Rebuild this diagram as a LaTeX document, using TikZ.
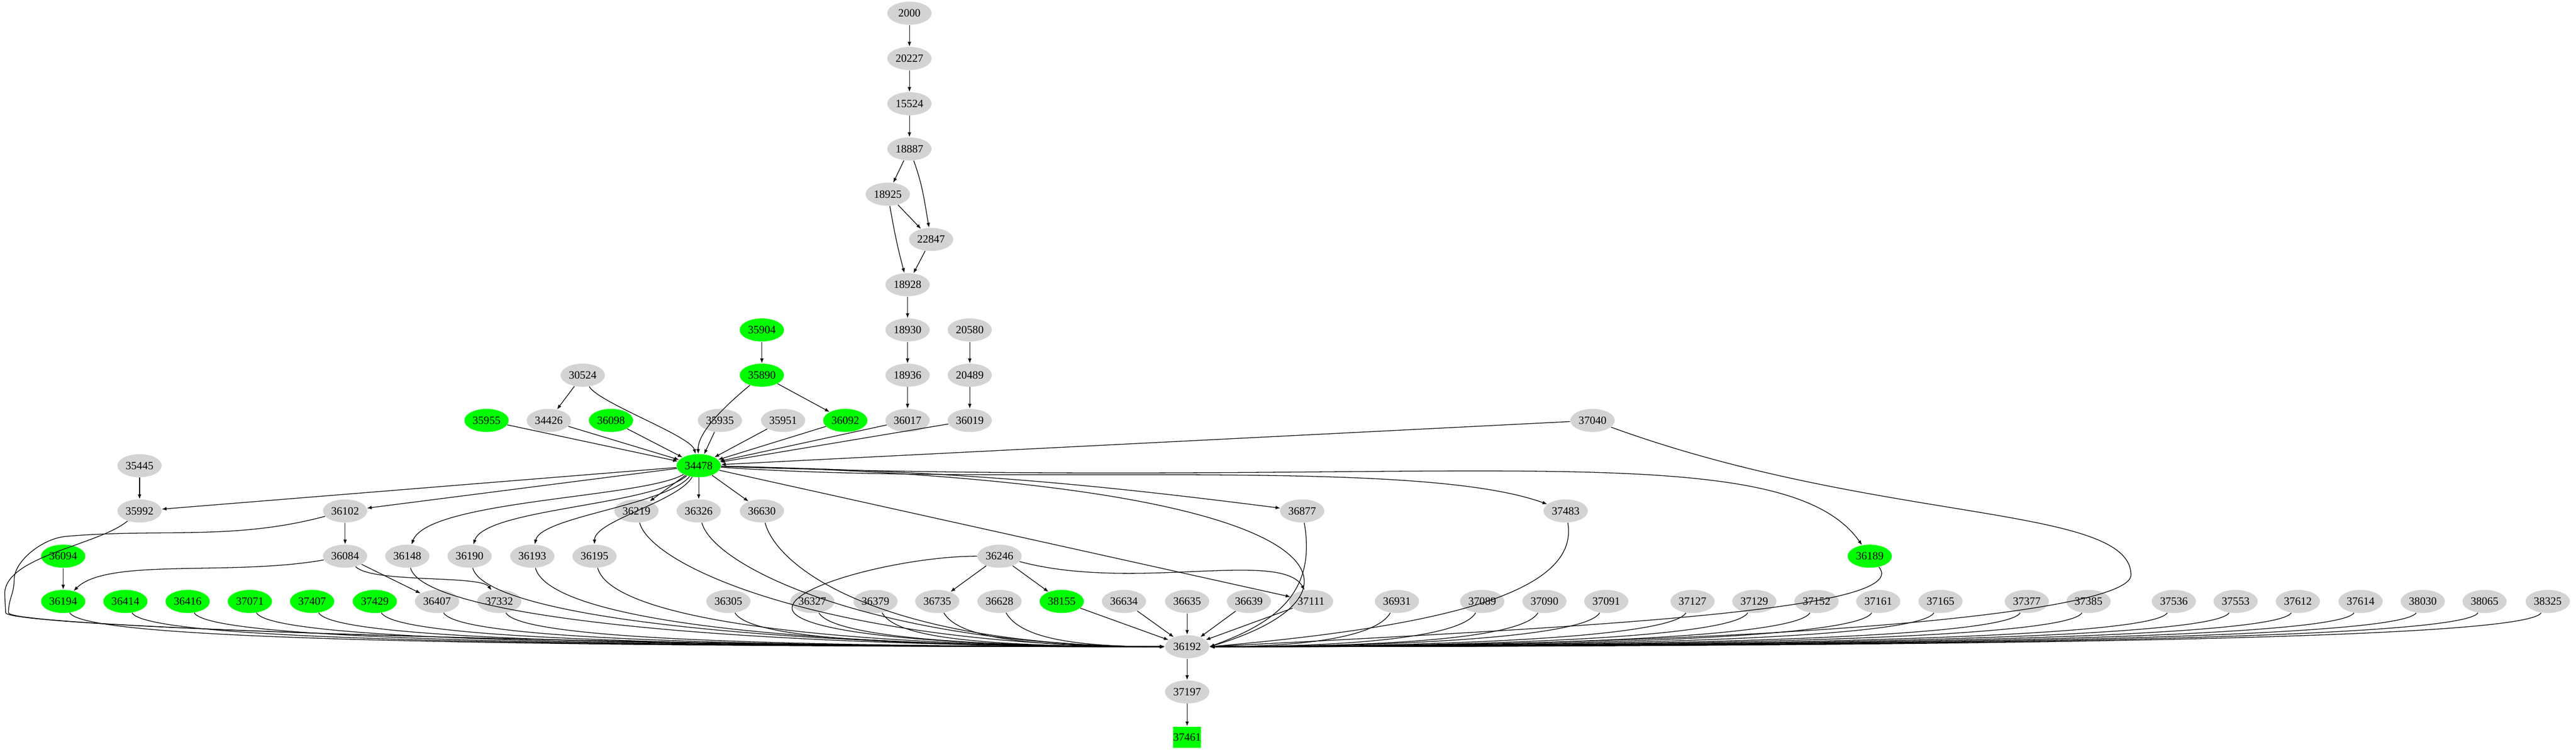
\documentclass[tikz,border=0pt]{standalone}
\usepackage{fontspec}
\setmainfont{Liberation Serif}
\usetikzlibrary{arrows.meta}
\definecolor{nodegray}{RGB}{211,211,211}
\definecolor{hitgreen}{RGB}{0,255,0}
\tikzstyle{g} = [ellipse,fill=nodegray,minimum width=0.94cm,minimum height=0.49cm,inner sep=0pt,font=\fontsize{6.7}{8}\selectfont]
\usetikzlibrary{shapes.geometric}

\begin{document}
\begin{tikzpicture}[gr/.style={g},
			gn/.style={g,fill=hitgreen},
			gbox/.style={rectangle,fill=hitgreen,minimum width=0.5cm,minimum height=0.45cm,inner sep=0pt,font=\fontsize{6.7}{8}\selectfont},
			fromleft/.style={out=-60,in=180,out distance=0.6cm,in distance=#1},
			fromright/.style={out=-120,in=0,out distance=0.6cm,in distance=#1},
			>={Latex[length=1mm,width=0.75mm]},
			every path/.style={line width=0.4pt}]
			\useasboundingbox (0,0) rectangle (54.64,-15.95);
			% top chain
			\node (n2000)[gr] at (19.29,-0.28) {2000};
			\node (n20227)[gr] at (19.29,-1.24) {20227};
			\node (n15524)[gr] at (19.29,-2.20) {15524};
			\node (n18887)[gr] at (19.29,-3.16) {18887};
			\node (n18925)[gr] at (18.83,-4.12) {18925};
			\node (n22847)[gr] at (19.75,-5.08) {22847};
			\node (n18928)[gr] at (19.25,-6.04) {18928};
			\node (n18930)[gr] at (19.25,-7.00) {18930};
			\node (n18936)[gr] at (19.25,-7.96) {18936};
			\node (n20580)[gr] at (20.57,-7.00) {20580};
			\node (n20489)[gr] at (20.57,-7.96) {20489};
			\node (n35904)[gn] at (16.16,-7.00) {35904};
			\node (n35890)[gn] at (16.16,-7.96) {35890};
			\node (n30524)[gr] at (12.36,-7.96) {30524};
			% rank above hub
			\node (n35955)[gn] at (10.32,-8.92) {35955};
			\node (n34426)[gr] at (11.64,-8.92) {34426};
			\node (n36098)[gn] at (12.96,-8.92) {36098};
			\node (n35935)[gr] at (15.27,-8.92) {35935};
			\node (n35951)[gr] at (16.61,-8.92) {35951};
			\node (n36092)[gn] at (17.93,-8.92) {36092};
			\node (n36017)[gr] at (19.25,-8.92) {36017};
			\node (n36019)[gr] at (20.57,-8.92) {36019};
			\node (n37040)[gr] at (33.78,-8.92) {37040};
			% hub
			\node (n34478)[gn] at (14.82,-9.88) {34478};
			\node (n35445)[gr] at (2.96,-9.88) {35445};
			% rank below hub
			\node (n35992)[gr] at (2.96,-10.84) {35992};
			\node (n36102)[gr] at (7.32,-10.84) {36102};
			\node (n36219)[gr] at (13.50,-10.84) {36219};
			\node (n36326)[gr] at (14.82,-10.84) {36326};
			\node (n36630)[gr] at (16.16,-10.84) {36630};
			\node (n36877)[gr] at (27.62,-10.84) {36877};
			\node (n37483)[gr] at (33.21,-10.84) {37483};
			\node (n36094)[gn] at (1.34,-11.80) {36094};
			\node (n36084)[gr] at (7.32,-11.80) {36084};
			\node (n36148)[gr] at (8.64,-11.80) {36148};
			\node (n36190)[gr] at (9.96,-11.80) {36190};
			\node (n36193)[gr] at (11.29,-11.80) {36193};
			\node (n36195)[gr] at (12.61,-11.80) {36195};
			\node (n36246)[gr] at (21.20,-11.80) {36246};
			\node (n36189)[gn] at (39.66,-11.80) {36189};
			% bottom row
			\node (n36194)[gn] at (1.34,-12.76) {36194};
			\node (n36414)[gn] at (2.66,-12.76) {36414};
			\node (n36416)[gn] at (3.98,-12.76) {36416};
			\node (n37071)[gn] at (5.30,-12.76) {37071};
			\node (n37407)[gn] at (6.62,-12.76) {37407};
			\node (n37429)[gn] at (7.95,-12.76) {37429};
			\node (n36407)[gr] at (9.27,-12.76) {36407};
			\node (n37332)[gr] at (10.59,-12.76) {37332};
			\node (n36735)[gr] at (19.88,-12.76) {36735};
			\node (n38155)[gn] at (22.52,-12.76) {38155};
			\node (n37111)[gr] at (27.81,-12.76) {37111};
			\foreach \name/\x in {36305/15.45,36327/17.23,36379/18.57,36628/21.20,36634/23.84,36635/25.18,36639/26.49,
				36931/29.63,37089/31.44,37090/32.76,37091/34.07,37127/35.90,37129/37.21,37152/38.53,37161/39.84,
				37165/41.16,37377/42.99,37385/44.30,37536/46.11,37553/47.42,37612/48.74,37614/50.07,38030/51.39,
				38065/52.70,38325/54.04}
				\node (n\name)[gr] at (\x,-12.76) {\name};
			% sink
			\node (n36192)[gr] at (25.18,-13.72) {36192};
			\node (n37197)[gr] at (25.18,-14.68) {37197};
			\node (n37461)[gbox] at (25.18,-15.64) {37461};

			\draw[->] (n2000) -- (n20227);
			\draw[->] (n20227) -- (n15524);
			\draw[->] (n15524) -- (n18887);
			\draw[->] (n18887) -- (n18925);
			\draw[->] (n18887) to[out=-70,in=100] (n22847);
			\draw[->] (n18925) -- (n22847);
			\draw[->] (n18925) to[out=-80,in=105] (n18928);
			\draw[->] (n22847) -- (n18928);
			\draw[->] (n18928) -- (n18930);
			\draw[->] (n18930) -- (n18936);
			\draw[->] (n18936) -- (n36017);
			\draw[->] (n20580) -- (n20489);
			\draw[->] (n20489) -- (n36019);
			\draw[->] (n35904) -- (n35890);
			\draw[->] (n35890) -- (n36092);
			\draw[->] (n35890) to[out=-140,in=92,out distance=0.5cm,in distance=0.5cm] (n34478);
			\draw[->] (n30524) -- (n34426);
			\draw[->] (n30524) to[out=-60,in=105,out distance=0.4cm,in distance=0.4cm] (n34478);
			\foreach \s in {35955,34426,36098,35935,35951,36092,36017,36019,37040}
				\draw[->] (n\s) -- (n34478);
			\draw[->] (n35445) -- (n35992);
			\foreach \t in {35992,36102,36219,36326,36630,37111}
				\draw[->] (n34478) -- (n\t);
			\draw[->] (n34478) to[bend left=3] (n36877);
			\draw[->] (n34478) to[out=-4,in=160,out distance=6cm,in distance=3cm] (n37483);
			\draw[->] (n34478) to[out=-2,in=125,out distance=15cm,in distance=3cm] (n36189);
			\draw[->] (n34478) to[out=-150,in=70,out distance=1cm,in distance=1cm] (n36148);
			\draw[->] (n34478) to[out=-140,in=72,out distance=1cm,in distance=0.8cm] (n36190);
			\draw[->] (n34478) to[out=-130,in=78,out distance=0.8cm,in distance=0.6cm] (n36193);
			\draw[->] (n34478) to[out=-120,in=90,out distance=0.6cm,in distance=0.5cm] (n36195);
			\draw[->] (n34478) .. controls (28.8,-10.2) and (29.4,-12.6) .. (n36192.east);
			\draw[->] (n36102) -- (n36084);
			\draw[->] (n36094) -- (n36194);
			\draw[->] (n36084) to[out=190,in=45,out distance=2cm,in distance=1cm] (n36194);
			\draw[->] (n36084) -- (n36407);
			\draw[->] (n36084) to[out=-45,in=125,out distance=0.5cm,in distance=0.4cm] (n37332);
			\draw[->] (n36246) -- (n36735);
			\draw[->] (n36246) -- (n38155);
			\draw[->] (n36246) to[out=-15,in=120,out distance=2.5cm,in distance=1cm] (n37111);
			% into the sink
			\draw[->] (n35992) to[out=-140,in=90,out distance=0.8cm,in distance=0.8cm] (0.1,-12.6) to[out=-90,in=90,out distance=0.2cm,in distance=0.2cm] (0.12,-13.0) to[out=-90,in=180,out distance=0.3cm,in distance=12cm] (n36192.west);
			\draw[->] (n36102) to[out=-165,in=5,out distance=2cm,in distance=2cm] (1.4,-11.38) to[out=-175,in=90,out distance=0.5cm,in distance=0.4cm] (0.3,-12.3) to[out=-90,in=90,out distance=0.3cm,in distance=0.3cm] (0.18,-13.0) to[out=-90,in=180,out distance=0.3cm,in distance=12cm] (n36192.west);
			\foreach \s/\d in {36194/16,36414/15,36416/14,37071/13,37407/12,37429/11,36407/10,37332/9,36305/6,36327/4,36379/4,36735/3,36628/2}
				\draw[->] (n\s) to[fromleft=\d cm] (n36192.west);
			\foreach \s/\d in {36148/10,36190/9,36193/9,36195/8,36219/7,36326/6,36630/6}
				\draw[->] (n\s) to[out=-75,in=180,out distance=1cm,in distance=\d cm] (n36192.west);
			\draw[->] (n36246) to[out=180,in=90,out distance=1.5cm,in distance=0.5cm] (16.8,-12.9) to[out=-90,in=180,out distance=0.5cm,in distance=5cm] (n36192.west);
			\foreach \s in {38155,36634,36635,36639,37111}
				\draw[->] (n\s) -- (n36192);
			\draw[->] (n36877) to[out=-80,in=20,out distance=1.5cm,in distance=1.5cm] (n36192.east);
			\draw[->] (n37483) to[out=-80,in=5,out distance=1.5cm,in distance=5cm] (n36192.east);
			\draw[->] (n36189) to[out=-50,in=3,out distance=1.2cm,in distance=8cm] (n36192.east);
			\draw[->] (n37040) to[out=-20,in=90,out distance=6cm,in distance=1.5cm] (45.2,-12.2) to[out=-90,in=0,out distance=0.8cm,in distance=12cm] (n36192.east);
			\foreach \s/\d in {36931/2,37089/3,37090/4,37091/4,37127/5,37129/6,37152/7,37161/8,37165/9,37377/10,37385/11,37536/12,37553/13,37612/14,37614/15,38030/16,38065/17,38325/18}
				\draw[->] (n\s) to[fromright=\d cm] (n36192.east);
			\draw[->] (n36192) -- (n37197);
			\draw[->] (n37197) -- (n37461);
		\end{tikzpicture}
\end{document}
